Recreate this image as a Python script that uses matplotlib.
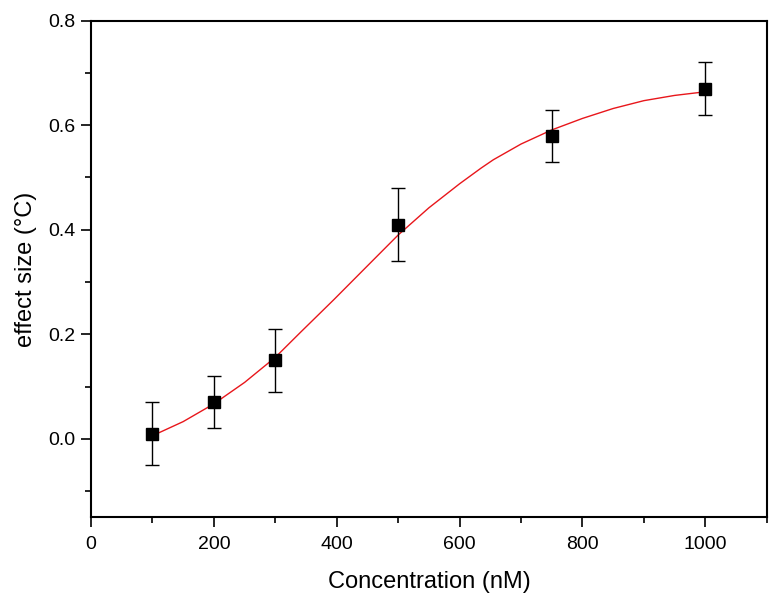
import matplotlib
matplotlib.use("Agg")
import matplotlib.pyplot as plt
from matplotlib.ticker import MultipleLocator

plt.rcParams['font.family'] = ['Liberation Sans', 'DejaVu Sans']

# measured points
conc = [100, 200, 300, 500, 750, 1000]
effect = [0.01, 0.07, 0.15, 0.41, 0.58, 0.67]
err = [0.06, 0.05, 0.06, 0.07, 0.05, 0.05]

# fitted curve
fit_x = [100, 150, 200, 250, 300, 342, 395, 450, 500, 550, 600, 635, 655,
         700, 750, 800, 850, 900, 950, 1000]
fit_y = [0.006, 0.033, 0.067, 0.108, 0.156, 0.205, 0.266, 0.331, 0.390,
         0.442, 0.488, 0.518, 0.534, 0.564, 0.591, 0.613, 0.632, 0.647,
         0.657, 0.664]

fig = plt.figure(figsize=(7.8, 6.01), dpi=100)
ax = fig.add_axes([0.1167, 0.1393, 0.983 - 0.1167, 0.9656 - 0.1393])

ax.plot(fit_x, fit_y, color='#e8161b', linewidth=1.0, zorder=2)
ax.errorbar(conc, effect, yerr=err, fmt='s', color='black', markersize=8,
            ecolor='black', elinewidth=1.0, capsize=5, capthick=1.0, zorder=3)

ax.set_xlim(0, 1100)
ax.set_ylim(-0.15, 0.8)
ax.xaxis.set_major_locator(MultipleLocator(200))
ax.xaxis.set_minor_locator(MultipleLocator(100))
ax.yaxis.set_major_locator(MultipleLocator(0.2))
ax.yaxis.set_minor_locator(MultipleLocator(0.1))
ax.yaxis.set_major_formatter(matplotlib.ticker.FormatStrFormatter('%.1f'))

for s in ax.spines.values():
    s.set_linewidth(1.5)
ax.tick_params(which='major', direction='out', length=7.5, width=1.2,
               labelsize=14, pad=4, top=False, right=False)
ax.tick_params(axis='x', which='major', pad=6)
ax.tick_params(which='minor', direction='out', length=4, width=1.2,
               top=False, right=False)

ax.set_xlabel('Concentration (nM)', fontsize=17, labelpad=13)
ax.set_ylabel('effect size (°C)', fontsize=17, labelpad=8)

fig.savefig('out.png', dpi=100)
